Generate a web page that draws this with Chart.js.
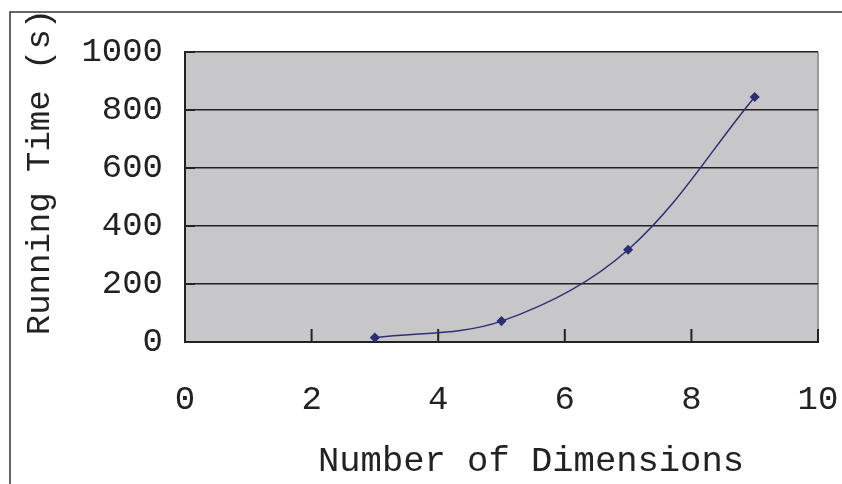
<!DOCTYPE html>
<html>
<head>
<meta charset="utf-8">
<script src="https://cdn.jsdelivr.net/npm/chart.js@4/dist/chart.umd.min.js"></script>
<style>
  body { margin: 0; background: #fff; }
  canvas { display: block; }
</style>
</head>
<body>
<canvas id="myChart" width="842" height="484"></canvas>
<script>
// data
var dims = [3, 5, 7, 9];
var runTime = [15, 72, 318, 845];
var xTicks = [0, 2, 4, 6, 8, 10];
var yTicks = [0, 200, 400, 600, 800, 1000];

var lineColor = "#2e2f72";
var monoFont = "'Liberation Mono', 'DejaVu Sans Mono', monospace";

var points = dims.map(function (d, i) {
  return { x: d, y: runTime[i] };
});

// gray plot area, outer frame, inward tick marks and axis titles
var excelLook = {
  id: "excelLook",
  beforeDraw: function (chart) {
    var ctx = chart.ctx;
    var a = chart.chartArea;
    ctx.save();
    ctx.fillStyle = "#fff";
    ctx.fillRect(0, 0, chart.width, chart.height);
    // outer frame (cut off right and bottom)
    ctx.strokeStyle = "#333";
    ctx.lineWidth = 1.5;
    ctx.beginPath();
    ctx.moveTo(10, chart.height);
    ctx.lineTo(10, 12);
    ctx.lineTo(chart.width, 12);
    ctx.stroke();
    // plot area
    ctx.fillStyle = "#c7c7c9";
    ctx.fillRect(a.left, a.top, a.right - a.left, a.bottom - a.top);
    ctx.strokeStyle = "#999";
    ctx.lineWidth = 2;
    ctx.beginPath();
    ctx.moveTo(a.right, a.top);
    ctx.lineTo(a.right, a.bottom);
    ctx.stroke();
    ctx.restore();
  },
  beforeDatasetsDraw: function (chart) {
    var ctx = chart.ctx;
    var a = chart.chartArea;
    var xs = chart.scales.x;
    var ys = chart.scales.y;
    ctx.save();
    ctx.strokeStyle = "#222";
    ctx.lineWidth = 2;
    ctx.beginPath();
    xTicks.forEach(function (t) {
      var px = xs.getPixelForValue(t);
      ctx.moveTo(px, a.bottom);
      ctx.lineTo(px, a.bottom - 13);
    });
    yTicks.forEach(function (t) {
      var py = ys.getPixelForValue(t);
      ctx.moveTo(a.left, py);
      ctx.lineTo(a.left + 10, py);
    });
    ctx.stroke();
    ctx.restore();
  },
  afterDraw: function (chart) {
    var ctx = chart.ctx;
    ctx.save();
    ctx.fillStyle = "#222";
    ctx.textAlign = "center";
    ctx.textBaseline = "middle";
    ctx.font = "35.5px " + monoFont;
    ctx.fillText("Number of Dimensions", 531, 462);
    ctx.font = "34px " + monoFont;
    ctx.translate(40, 172);
    ctx.rotate(-Math.PI / 2);
    ctx.fillText("Running Time (s)", 0, 0);
    ctx.restore();
  }
};

new Chart("myChart", {
  type: "scatter",
  data: {
    datasets: [{
      data: points,
      showLine: true,
      borderColor: lineColor,
      backgroundColor: lineColor,
      borderWidth: 1.5,
      tension: 0.35,
      pointStyle: "rectRot",
      pointRadius: 4,
      pointHoverRadius: 4
    }]
  },
  options: {
    responsive: false,
    animation: false,
    layout: {
      padding: { top: 52, right: 24, left: 10, bottom: 0 }
    },
    plugins: {
      legend: { display: false },
      tooltip: { enabled: false }
    },
    scales: {
      x: {
        type: "linear",
        min: 0,
        max: 10,
        afterBuildTicks: function (scale) {
          scale.ticks = xTicks.map(function (v) { return { value: v }; });
        },
        afterFit: function (scale) {
          scale.height = 142;
          scale.paddingLeft = 0;
          scale.paddingRight = 0;
        },
        grid: { display: false, drawTicks: false },
        border: { color: "#222", width: 2 },
        ticks: {
          padding: 38,
          color: "#222",
          font: { family: monoFont, size: 34 },
          callback: function (v) { return String(v); }
        }
      },
      y: {
        type: "linear",
        min: 0,
        max: 1000,
        afterBuildTicks: function (scale) {
          scale.ticks = yTicks.map(function (v) { return { value: v }; });
        },
        afterFit: function (scale) {
          scale.width = 175;
          scale.paddingTop = 0;
          scale.paddingBottom = 0;
        },
        grid: { color: "#222", lineWidth: 1.5, drawTicks: false },
        border: { color: "#222", width: 2 },
        ticks: {
          padding: 22,
          color: "#222",
          font: { family: monoFont, size: 34 },
          callback: function (v) { return String(v); }
        }
      }
    }
  },
  plugins: [excelLook]
});
</script>
</body>
</html>
